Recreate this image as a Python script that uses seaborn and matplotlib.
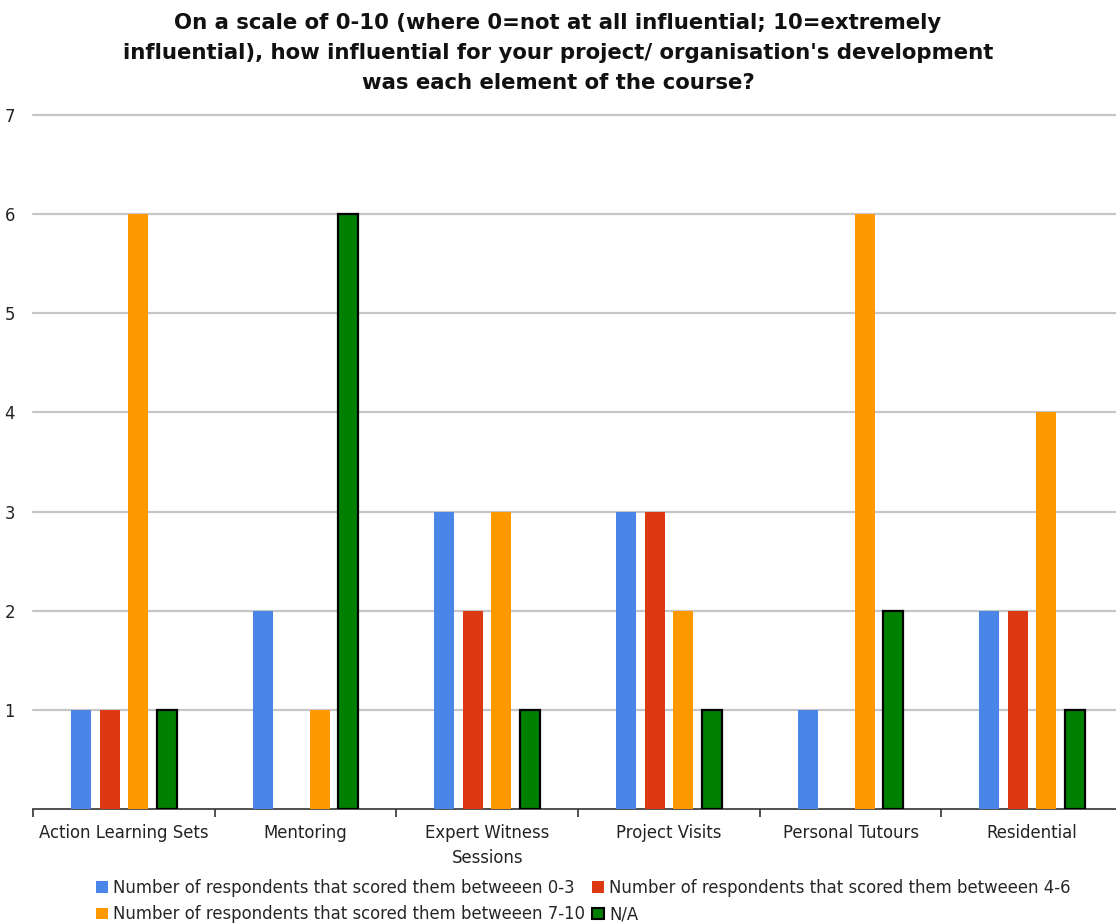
import matplotlib
matplotlib.use("Agg")
import matplotlib.pyplot as plt
import matplotlib.patches as mpatches
import pandas as pd
import seaborn as sns

# data
elements = [
    "Action Learning Sets",
    "Mentoring",
    "Expert Witness\nSessions",
    "Project Visits",
    "Personal Tutours",
    "Residential",
]
series = [
    "Number of respondents that scored them betweeen 0-3",
    "Number of respondents that scored them betweeen 4-6",
    "Number of respondents that scored them betweeen 7-10",
    "N/A",
]
score_0_3 = [1, 2, 3, 3, 1, 2]
score_4_6 = [1, 0, 2, 3, 0, 2]
score_7_10 = [6, 1, 3, 2, 6, 4]
not_applicable = [1, 6, 1, 1, 2, 1]
colors = ["#4A86E8", "#DC3912", "#FF9900", "#008000"]

title = ("On a scale of 0-10 (where 0=not at all influential; 10=extremely\n"
         "influential), how influential for your project/ organisation's development\n"
         "was each element of the course?")

sns.set_theme(style="white")
plt.rcParams["font.family"] = ["DejaVu Sans"]

rows = []
for name, vals in zip(series, [score_0_3, score_4_6, score_7_10, not_applicable]):
    for el, v in zip(elements, vals):
        rows.append({"element": el, "count": v, "series": name})
df = pd.DataFrame(rows)

fig = plt.figure(figsize=(11.16, 9.24), dpi=100)
ax = fig.add_axes([0.0296, 0.1245, 0.9767, 0.751])

sns.barplot(data=df, x="element", y="count", hue="series", order=elements,
            hue_order=series, palette=colors, saturation=1, width=0.628,
            gap=0.3, errorbar=None, linewidth=0, ax=ax, zorder=3)

# black edge on the N/A bars
for patch in ax.containers[3]:
    patch.set_edgecolor("black")
    patch.set_linewidth(1.6)

ax.set_xlim(-0.5, 5.5)
ax.set_ylim(0, 7)
ax.set_yticks(range(1, 8))
ax.yaxis.grid(True, color="#c6c6c6", linewidth=1.6, zorder=0)
for line in ax.get_ygridlines():
    line.set_clip_on(False)
ax.xaxis.grid(False)
ax.set_axisbelow(True)
for side in ["left", "right", "top"]:
    ax.spines[side].set_visible(False)
ax.spines["bottom"].set_color("#333333")
ax.spines["bottom"].set_linewidth(1.2)

ax.set_xticks([i - 0.5 for i in range(7)], minor=True)
ax.tick_params(axis="x", which="major", length=0, pad=10.5, labelsize=11.9, colors="#222222")
ax.tick_params(axis="x", which="minor", length=6, width=1.2, color="#333333", direction="out", bottom=True)
ax.tick_params(axis="y", length=0, pad=13, labelsize=11.9, colors="#222222")
for lbl in ax.get_xticklabels():
    lbl.set_linespacing(1.5)
ax.set_xlabel("")
ax.set_ylabel("")

fig.suptitle(title, y=0.9426, va="center", fontsize=15.3, fontweight="bold",
             linespacing=1.6, color="#111111")

# legend, rows: 0-3 / 4-6, then 7-10 / N/A
handles = [
    mpatches.Patch(facecolor=colors[0], edgecolor="none"),
    mpatches.Patch(facecolor=colors[2], edgecolor="none"),
    mpatches.Patch(facecolor=colors[1], edgecolor="none"),
    mpatches.Patch(facecolor=colors[3], edgecolor="black", linewidth=1.5),
]
labels = [series[0], series[2], series[1], series[3]]
if ax.get_legend() is not None:
    ax.get_legend().remove()
fig.legend(handles, labels, ncol=2, loc="upper left", bbox_to_anchor=(0.086, 0.0487),
           frameon=False, fontsize=11.9, handlelength=0.72, handleheight=0.72,
           handletextpad=0.3, columnspacing=0.45, labelspacing=0.5, borderaxespad=0,
           borderpad=0)

fig.savefig("out.png", dpi=100)
